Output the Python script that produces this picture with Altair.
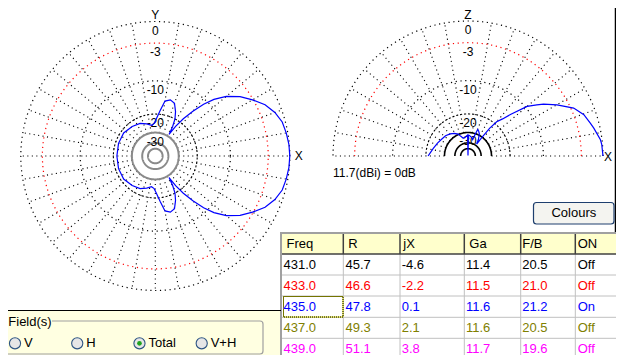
import altair as alt
import pandas as pd

# ---------------- data ----------------
# azimuth (XY plane) pattern, dB relative to max, upper half (mirrored below)
az_angle = [0, 5, 10, 15, 20, 25, 30, 35, 40, 44, 47, 50, 53, 55.5, 57.5, 59.5, 62, 65.5, 70, 75,
            80, 84, 88, 92, 97, 105, 115, 128, 144, 161, 180]
az_db = [0, -0.05, -0.2, -0.4, -0.95, -1.8, -3.1, -4.5, -6.4, -8.6, -11.0, -14.3, -18.2, -22.5, -28.5,
         -23.5, -20.0, -17.4, -15.0, -14.4, -15.1, -18.6, -21.8, -24.3, -25.2, -24.0, -22.6, -21.9,
         -21.2, -21.3, -21.5]
# elevation (XZ plane) pattern
el_angle = [0, 5, 7, 12.5, 15, 19.6, 24.4, 29.9, 34.5, 36.6, 40, 44.4, 47, 50, 52, 53, 54, 58, 63, 67,
            70, 72, 74, 80, 86, 89, 90, 91, 98, 105, 110, 114, 121, 129, 138, 147.6, 157, 167.5, 174, 180]
el_db = [0, -0.1, -0.2, -0.8, -1.1, -1.6, -2.6, -4.7, -6.65, -7.8, -9.6, -14.1, -16.8, -19, -23, -30,
         -38, -33, -29, -27.5, -26.8, -31, -35.5, -33.5, -32.3, -32, -99, -32, -33.5, -34.2, -32, -29.7,
         -28, -26.7, -25.7, -25.1, -24.1, -22.9, -22, -20.9]

ring_labels = ["0", "-3", "-10", "-20", "-30"]
label_db = [0, -3, -10, -20, -30]
inner_db = [-30, -40, -50]
spoke_step = 10
gain_dbi = 11.7

headers = ["Freq", "R", "jX", "Ga", "F/B", "ON"]
freq = [431.0, 433.0, 435.0, 437.0, 439.0]
res = [45.7, 46.6, 47.8, 49.3, 51.1]
jx = [-4.6, -2.2, 0.1, 2.1, 3.8]
ga = [11.4, 11.5, 11.6, 11.6, 11.7]
fb = [20.5, 21.0, 21.2, 20.5, 19.6]
on = ["Off", "Off", "On", "Off", "Off"]
row_colors = ["#000000", "#FF0000", "#0000FF", "#808000", "#FF00FF"]
fields = ["V", "H", "Total", "V+H"]
selected_field = "Total"

# ---------------- layout ----------------
FONT = "Liberation Sans"
OFF = 8
W, H = 608, 347
LCX, LCY, LR = 155.3, 156.0, 134.5
RCX, RCY, RR = 468.0, 156.0, 135.0


def P(v):
    return v - OFF


def xs(cx, R):
    return alt.Scale(domain=[-1, 1], range=[P(cx - R), P(cx + R)], nice=False, zero=False)


def ys(cy, R):
    return alt.Scale(domain=[-1, 1], range=[P(cy + R), P(cy - R)], nice=False, zero=False)


RAD = "pow(0.89, -datum.db / 2)"
DOT = [1.2, 3.6]


def polar_xy(ch):
    return (ch.transform_calculate(r=RAD)
              .transform_calculate(px="datum.r * cos(datum.ang * PI / 180)")
              .transform_calculate(py="datum.r * sin(datum.ang * PI / 180)"))


def ring(level, stop, cx, cy, R, **mark):
    base = alt.Chart(alt.sequence(0, stop + 1, 2, as_="ang")).transform_calculate(db=str(level))
    return polar_xy(base).mark_line(**mark).encode(
        x=alt.X("px:Q", scale=xs(cx, R), axis=None),
        y=alt.Y("py:Q", scale=ys(cy, R), axis=None),
        order="ang:Q")


def spokes(stop, cx, cy, R):
    r0 = f"pow(0.89, {-inner_db[0]} / 2)"
    return (alt.Chart(alt.sequence(0, stop, spoke_step, as_="ang"))
            .transform_filter("datum.ang != 90")
            .transform_calculate(x0=f"{r0} * cos(datum.ang * PI / 180)")
            .transform_calculate(y0=f"{r0} * sin(datum.ang * PI / 180)")
            .transform_calculate(x1="cos(datum.ang * PI / 180)")
            .transform_calculate(y1="sin(datum.ang * PI / 180)")
            .mark_rule(color="black", strokeWidth=1.1, strokeDash=[1.1, 3.4])
            .encode(x=alt.X("x0:Q", scale=xs(cx, R), axis=None),
                    y=alt.Y("y0:Q", scale=ys(cy, R), axis=None),
                    x2="x1:Q", y2="y1:Q"))


def ring_text(cx, cy, R):
    df = pd.DataFrame({"label": ring_labels, "db": label_db})
    return (alt.Chart(df).transform_calculate(r=RAD)
            .mark_text(dy=9, fontSize=12, font=FONT, baseline="middle", color="black")
            .encode(x=alt.X(datum=0, type="quantitative", scale=xs(cx, R), axis=None),
                    y=alt.Y("r:Q", scale=ys(cy, R), axis=None),
                    text="label:N"))


def letter(txt, xd, yd, dx, dy, cx, cy, R, align="center"):
    return (alt.Chart(pd.DataFrame({"t": [txt]}))
            .mark_text(dx=dx, dy=dy, fontSize=12, font=FONT, baseline="middle", align=align, color="black")
            .encode(x=alt.X(datum=xd, type="quantitative", scale=xs(cx, R), axis=None),
                    y=alt.Y(datum=yd, type="quantitative", scale=ys(cy, R), axis=None),
                    text="t:N"))


def pattern(df, cx, cy, R):
    return polar_xy(alt.Chart(df)).mark_line(color="#0000FF", strokeWidth=1.2).encode(
        x=alt.X("px:Q", scale=xs(cx, R), axis=None),
        y=alt.Y("py:Q", scale=ys(cy, R), axis=None),
        order="ang:Q")


def box_df(rows):
    return pd.DataFrame([{k: (P(v) if k in ("x", "x2", "y", "y2") else v) for k, v in r.items()} for r in rows])


lower = pd.DataFrame({"ang": [-a for a in az_angle[::-1]], "db": az_db[::-1]})
upper = pd.DataFrame({"ang": az_angle[1:], "db": az_db[1:]})
az_full = pd.concat([lower, upper], ignore_index=True)
el_df = pd.DataFrame({"ang": el_angle, "db": el_db})

layers = []

# ---- UI backgrounds ----
rects = box_df([
    dict(x=0, x2=624, y=311, y2=363, fill="#FFFFE1", stroke="transparent", sw=0),
    dict(x=281, x2=622, y=233, y2=360, fill="#FFFFFF", stroke="#A0A0A0", sw=2),
    dict(x=282, x2=621, y=234, y2=254, fill="#FFFFCC", stroke="transparent", sw=0),
])
layers.append(alt.Chart(rects).mark_rect().encode(
    x=alt.X("x:Q", scale=None), x2="x2:Q", y=alt.Y("y:Q", scale=None), y2="y2:Q",
    fill=alt.Fill("fill:N", scale=None), stroke=alt.Stroke("stroke:N", scale=None),
    strokeWidth=alt.StrokeWidth("sw:Q", scale=None)))

# ---- left polar grid (azimuth) ----
layers.append(spokes(360, LCX, LCY, LR))
layers.append(ring(0, 360, LCX, LCY, LR, color="black", strokeWidth=1.2, strokeDash=DOT))
layers.append(ring(-3, 360, LCX, LCY, LR, color="#FF0000", strokeWidth=1.2, strokeDash=DOT))
layers.append(ring(-10, 360, LCX, LCY, LR, color="black", strokeWidth=1.2, strokeDash=DOT))
layers.append(ring(-20, 360, LCX, LCY, LR, color="black", strokeWidth=1.1, strokeDash=[2, 2]))
for lv in inner_db:
    layers.append(ring(lv, 360, LCX, LCY, LR, color="#8A8A8A", strokeWidth=2))
layers.append(ring_text(LCX, LCY, LR))
layers.append(letter("Y", 0, 1, 0, -7, LCX, LCY, LR))
layers.append(letter("X", 1, 0, 9, 0, LCX, LCY, LR))

# ---- right polar grid (elevation) ----
layers.append(spokes(181, RCX, RCY, RR))
layers.append(ring(0, 180, RCX, RCY, RR, color="black", strokeWidth=1.2, strokeDash=DOT))
layers.append(ring(-3, 180, RCX, RCY, RR, color="#FF0000", strokeWidth=1.2, strokeDash=DOT))
layers.append(ring(-10, 180, RCX, RCY, RR, color="black", strokeWidth=1.2, strokeDash=DOT))
layers.append(ring(-20, 180, RCX, RCY, RR, color="black", strokeWidth=1.1, strokeDash=[2, 2]))
for lv in inner_db:
    layers.append(ring(lv, 180, RCX, RCY, RR, color="black", strokeWidth=1.6))
layers.append(ring_text(RCX, RCY, RR))
layers.append(letter("Z", 0, 1, 0, -6.5, RCX, RCY, RR))
layers.append(letter("X", 1, 0, 5, 1, RCX, RCY, RR))
layers.append(letter(f"{gain_dbi}(dBi) = 0dB", -1, 0, 0, 17, RCX, RCY, RR, align="left"))

# ---- patterns ----
layers.append(pattern(az_full, LCX, LCY, LR))
layers.append(pattern(el_df, RCX, RCY, RR))

# ---- table lines ----
col_edges = [343.3, 400, 464.3, 520.7, 575.3]
row_edges = [275, 296, 317.3, 338.3, 359.3]
line_rows = []
for xe in col_edges:
    line_rows.append(dict(x=xe, x2=xe, y=254, y2=359, c="#C0C0C0", w=1))
for ye in row_edges:
    line_rows.append(dict(x=282, x2=621, y=ye, y2=ye, c="#C0C0C0", w=1))
for xe in col_edges:
    line_rows.append(dict(x=xe, x2=xe, y=234, y2=254, c="#404040", w=1.5))
line_rows.append(dict(x=282, x2=621, y=254, y2=254, c="#404040", w=1.5))
line_rows.append(dict(x=0, x2=281, y=310.5, y2=310.5, c="#000000", w=1.2))
line_rows.append(dict(x=615.5, x2=615.5, y=0, y2=232, c="#000000", w=1.5))
lines = box_df(line_rows)
layers.append(alt.Chart(lines).mark_rule().encode(
    x=alt.X("x:Q", scale=None), x2="x2:Q", y=alt.Y("y:Q", scale=None), y2="y2:Q",
    color=alt.Color("c:N", scale=None), strokeWidth=alt.StrokeWidth("w:Q", scale=None)))

# focus rectangle on selected cell
focus = box_df([dict(x=283.5, x2=343, y=296.5, y2=317)])
layers.append(alt.Chart(focus).mark_rect(fill="transparent", stroke="#E8E800", strokeWidth=1).encode(
    x=alt.X("x:Q", scale=None), x2="x2:Q", y=alt.Y("y:Q", scale=None), y2="y2:Q"))
layers.append(alt.Chart(focus).mark_rect(fill="transparent", stroke="#000000", strokeWidth=1,
                                         strokeDash=[1, 1]).encode(
    x=alt.X("x:Q", scale=None), x2="x2:Q", y=alt.Y("y:Q", scale=None), y2="y2:Q"))

# ---- table text ----
tbl = pd.DataFrame({"row": [1, 2, 3, 4, 5], "freq": freq, "r": res, "jx": jx, "ga": ga,
                    "fb": fb, "on": on, "color": row_colors})
col_fields = ["freq", "r", "jx", "ga", "fb", "on"]
col_text_x = [283.5, 345.5, 401.7, 466, 522.3, 577.7]
header_x = [286.5, 348.3, 403.3, 469.3, 522.3, 577.7]
row_scale = alt.Scale(domain=[1, 5], range=[P(265), P(349.3)], nice=False, zero=False)
for i, f in enumerate(col_fields):
    base = alt.Chart(tbl)
    if f == "on":
        base = base.transform_calculate(t="datum.on")
    else:
        base = base.transform_calculate(t=f"replace(format(datum.{f}, '.1f'), '\u2212', '-')")
    layers.append(base.mark_text(align="left", baseline="middle", fontSize=13, font=FONT).encode(
        x=alt.value(P(col_text_x[i])),
        y=alt.Y("row:Q", scale=row_scale, axis=None),
        text="t:N",
        color=alt.Color("color:N", scale=None)))
hdr = pd.DataFrame({"h": headers, "hx": [P(v) for v in header_x]})
layers.append(alt.Chart(hdr).mark_text(align="left", baseline="middle", fontSize=13, font=FONT,
                                       color="black").encode(
    x=alt.X("hx:Q", scale=None), y=alt.value(P(243.5)), text="h:N"))

# ---- Colours button ----
btn = box_df([dict(x=533.5, x2=614, y=202.5, y2=224, t="Colours")])
layers.append(alt.Chart(btn).mark_rect(fill="#F4F4F0", stroke="#1E3F6E", strokeWidth=1.2,
                                       cornerRadius=3).encode(
    x=alt.X("x:Q", scale=None), x2="x2:Q", y=alt.Y("y:Q", scale=None), y2="y2:Q"))
layers.append(alt.Chart(btn).mark_text(fontSize=13, font=FONT, baseline="middle", color="black").encode(
    x=alt.value(P(573.8)), y=alt.value(P(213.3)), text="t:N"))

# ---- Field(s) group box ----
grp = box_df([dict(x=2, x2=263, y=321, y2=354)])
layers.append(alt.Chart(grp).mark_rect(fill="transparent", stroke="#A0A0A0", strokeWidth=1.2,
                                       cornerRadius=3).encode(
    x=alt.X("x:Q", scale=None), x2="x2:Q", y=alt.Y("y:Q", scale=None), y2="y2:Q"))
glab = box_df([dict(x=6, x2=52, y=315, y2=327, t="Field(s)")])
layers.append(alt.Chart(glab).mark_rect(fill="#FFFFE1").encode(
    x=alt.X("x:Q", scale=None), x2="x2:Q", y=alt.Y("y:Q", scale=None), y2="y2:Q"))
layers.append(alt.Chart(glab).mark_text(fontSize=13, font=FONT, baseline="middle", align="left",
                                        color="black").encode(
    x=alt.value(P(8.3)), y=alt.value(P(321.5)), text="t:N"))

radio = pd.DataFrame({"f": fields, "sel": [f == selected_field for f in fields]})
rx = alt.X("f:N", scale=alt.Scale(type="point", domain=fields, range=[P(15), P(201.7)], padding=0), axis=None)
layers.append(alt.Chart(radio).mark_circle(size=125, fill="#E6E6E6", opacity=1, stroke="#2D5483",
                                           strokeWidth=1.1).encode(
    x=rx, y=alt.value(P(343.3))))
layers.append(alt.Chart(radio).transform_filter("datum.sel").mark_circle(size=22, color="#1FA31F",
                                                                         opacity=1).encode(
    x=rx, y=alt.value(P(343.3))))
layers.append(alt.Chart(radio).mark_text(dx=9, align="left", baseline="middle", fontSize=13, font=FONT,
                                         color="black").encode(
    x=rx, y=alt.value(P(343.3)), text="f:N"))

chart = (alt.layer(*layers)
         .resolve_scale(x="independent", y="independent")
         .properties(width=W, height=H, padding=0, autosize="none", background="white")
         .configure_view(strokeWidth=0))

chart.save("out.html", embed_options={"renderer": "svg", "actions": False})
